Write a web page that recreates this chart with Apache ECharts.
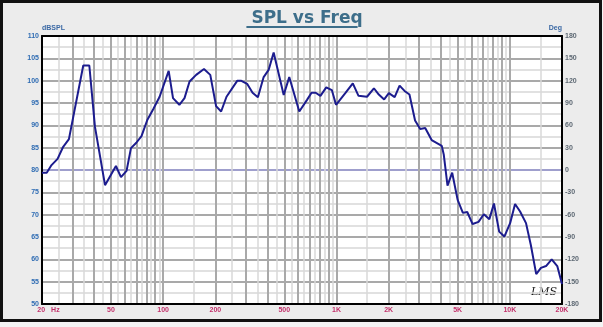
<!DOCTYPE html>
<html>
<head>
<meta charset="utf-8">
<script src="https://cdn.jsdelivr.net/npm/echarts@6/dist/echarts.min.js"></script>
<style>
html,body{margin:0;padding:0;background:#f4f4f4;}
#c{width:603px;height:327px;}
</style>
</head>
<body>
<div id="c"></div>
<script>
// ---- data ----
const freqHz = [20, 21.3, 22.7, 24.6, 26.5, 28.6, 34.6, 37.5, 40.4, 46.2, 53.4, 57.1, 61.5, 65.2, 70, 75, 81, 87.6, 95.4,
  107.6, 114, 124, 132.8, 142, 155, 172, 187, 202, 216, 232, 268, 281, 305, 328, 352, 380, 406, 434, 496, 534, 610,
  676, 718, 758, 808, 873, 940, 994, 1124, 1242, 1340, 1500, 1644, 1754, 1884, 2005, 2166, 2312, 2470, 2636, 2840,
  3040, 3250, 3540, 4050, 4160, 4370, 4650, 5000, 5360, 5680, 6100, 6600, 7080, 7620, 8100, 8680, 9300, 10040,
  10720, 11460, 12400, 13220, 14200, 15120, 16180, 17440, 18780, 20000];
const splDb = [79.4, 79.4, 81.1, 82.5, 85.2, 86.9, 103.4, 103.4, 89.7, 76.6, 80.9, 78.4, 79.8, 84.9, 86.1, 87.6, 91.2, 93.6, 96.4,
  102.2, 96.1, 94.6, 96.1, 99.8, 101.3, 102.6, 101.3, 94.3, 93.1, 96.4, 100, 100, 99.3, 97.3, 96.3, 100.8, 102.4, 106.3, 96.8, 100.8, 93.1,
  95.7, 97.3, 97.3, 96.6, 98.5, 97.9, 94.6, 97.2, 99.4, 96.6, 96.4, 98.3, 96.9, 95.8, 97.2, 96.3, 98.9, 97.7, 96.9, 91.1,
  89.2, 89.4, 86.7, 85.4, 83.4, 76.5, 79.4, 73.3, 70.4, 70.6, 67.9, 68.4, 70.1, 69, 72.5, 66.2, 65.1, 68.1,
  72.4, 70.7, 68.1, 63.2, 56.7, 58.1, 58.5, 60, 58.5, 54.5];

const xLabelValues = [20, 50, 100, 200, 500, 1000, 2000, 5000, 10000, 20000];
const xLabelTexts  = ['20', '50', '100', '200', '500', '1K', '2K', '5K', '10K', '20K'];
const xMajorGrid = [30, 40, 50, 60, 70, 80, 90, 100, 200, 300, 400, 500, 600, 700, 800, 900,
  1000, 2000, 3000, 4000, 5000, 6000, 7000, 8000, 9000, 10000];
const xMinorGrid = [25, 35, 45, 55, 65, 75, 85, 95, 150, 250, 350, 450, 550, 650, 750, 850, 950,
  1500, 2500, 3500, 4500, 5500, 6500, 7500, 8500, 9500, 15000];
const splTicks = [50, 55, 60, 65, 70, 75, 80, 85, 90, 95, 100, 105, 110];
const degTicks = [-180, -150, -120, -90, -60, -30, 0, 30, 60, 90, 120, 150, 180];
const degZeroLine = [0];

const titleText = 'SPL vs Freq';
const titleColor = '#3d6e8a';
const titleFont = 'bold 17px "DejaVu Sans"';

const chart = echarts.init(document.getElementById('c'), null, {renderer: 'canvas', width: 603, height: 327});

const cv = document.createElement('canvas').getContext('2d');
cv.font = titleFont;
const titleW = cv.measureText(titleText).width;
const cx = 302;

const lab = 'Liberation Sans, Arial, sans-serif';
const seriesData = freqHz.map((f, i) => [f, splDb[i]]);

function xLabel(v) {
  let best = 0, bd = Infinity;
  xLabelValues.forEach((x, i) => { const d = Math.abs(Math.log(v / x)); if (d < bd) { bd = d; best = i; } });
  if (best === 0) return '{s| }{a|' + xLabelTexts[0] + '}{h|Hz}';
  return '{a|' + xLabelTexts[best] + '}';
}

chart.setOption({
  animation: false,
  backgroundColor: 'transparent',
  graphic: [
    {type: 'rect', z: -10, shape: {x: 1.5, y: 1.5, width: 599, height: 319},
     style: {fill: '#ececec', stroke: '#111', lineWidth: 3}},
    {type: 'line', shape: {x1: cx - titleW / 2, y1: 27, x2: cx + titleW / 2, y2: 27},
     style: {stroke: titleColor, lineWidth: 2}},
    {type: 'text', x: 531, y: 287,
     style: {text: 'LMS', font: 'italic 11px "DejaVu Serif"', fill: '#1a1a1a'}}
  ],
  title: {
    text: titleText, left: cx, top: 5, textAlign: 'center',
    textStyle: {fontFamily: 'DejaVu Sans', fontWeight: 'bold', fontSize: 17, color: titleColor}
  },
  grid: {left: 42, right: 41, top: 36, bottom: 23, show: true, backgroundColor: '#ffffff',
         borderWidth: 0, containLabel: false, outerBoundsMode: 'none'},
  xAxis: [
    {
      type: 'log', logBase: 10, min: 20, max: 20000, position: 'bottom',
      axisLine: {show: true, onZero: false, lineStyle: {color: '#000', width: 2}},
      axisTick: {show: false, customValues: xMajorGrid},
      axisLabel: {
        customValues: xLabelValues, formatter: xLabel, margin: 3,
        color: '#c2306a', fontSize: 7, fontWeight: 'bold', fontFamily: lab,
        rich: {
          s: {width: 13, fontSize: 7},
          a: {color: '#c2306a', fontSize: 7, fontWeight: 'bold', fontFamily: lab},
          h: {color: '#c2306a', fontSize: 7, fontWeight: 'bold', fontFamily: lab, padding: [0, 0, 0, 6]}
        }
      },
      splitLine: {show: true, lineStyle: {color: '#a9a9a9', width: 2}},
      minorTick: {show: false}, minorSplitLine: {show: false}
    },
    {
      type: 'log', logBase: 10, min: 20, max: 20000, position: 'top',
      axisLine: {show: true, onZero: false, lineStyle: {color: '#000', width: 2}},
      axisTick: {show: false, customValues: xMinorGrid},
      axisLabel: {show: false},
      splitLine: {show: true, lineStyle: {color: '#d8d8d8', width: 1.5}}
    }
  ],
  yAxis: [
    {
      type: 'value', min: 50, max: 110, interval: 5, position: 'left',
      name: 'dBSPL', nameLocation: 'end', nameGap: 4,
      nameTextStyle: {align: 'left', color: '#3a68a4', fontSize: 7, fontWeight: 'bold', fontFamily: lab},
      axisLine: {show: true, onZero: false, lineStyle: {color: '#000', width: 2}},
      axisTick: {show: false},
      axisLabel: {customValues: splTicks, color: '#2f6cb3', fontSize: 7, fontWeight: 'bold', fontFamily: lab, margin: 3},
      splitLine: {show: true, showMinLine: false, showMaxLine: false, lineStyle: {color: '#a9a9a9', width: 2}},
      minorTick: {show: false, splitNumber: 2},
      minorSplitLine: {show: true, lineStyle: {color: '#d8d8d8', width: 1.5}}
    },
    {
      type: 'value', min: -180, max: 180, interval: 30, position: 'right',
      name: 'Deg', nameLocation: 'end', nameGap: 4,
      nameTextStyle: {align: 'right', color: '#3a68a4', fontSize: 7, fontWeight: 'bold', fontFamily: lab},
      axisLine: {show: true, onZero: false, lineStyle: {color: '#000', width: 2}},
      axisTick: {show: false, customValues: degZeroLine},
      axisLabel: {customValues: degTicks, color: '#5d6873', fontSize: 7, fontWeight: 'bold', fontFamily: lab, margin: 3},
      splitLine: {show: true, lineStyle: {color: '#9d9dda', width: 1.5}}
    }
  ],
  series: [{
    type: 'line', xAxisIndex: 0, yAxisIndex: 0, data: seriesData,
    symbol: 'none', showSymbol: false, smooth: false,
    lineStyle: {color: '#1c1c8e', width: 2}
  }]
});
</script>
</body>
</html>
